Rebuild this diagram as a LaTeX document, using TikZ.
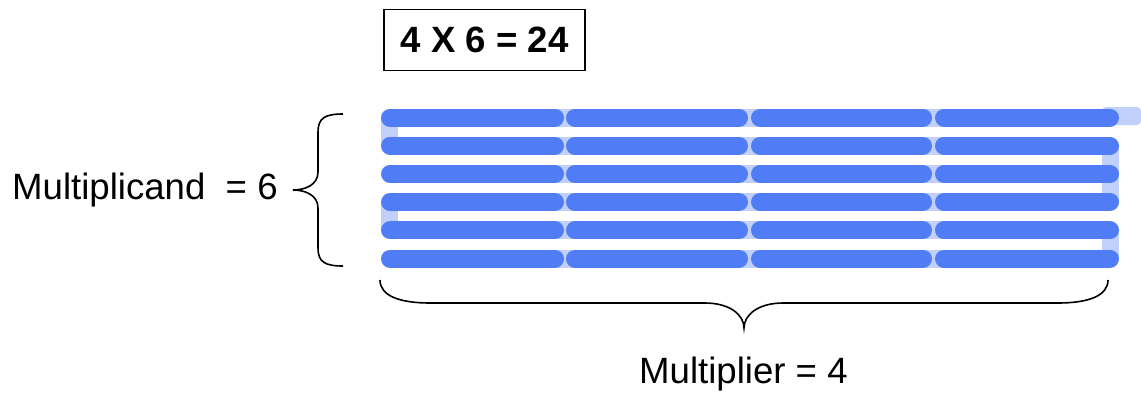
\documentclass[tikz,border=0pt]{standalone}
\usepackage{fontspec}
\setmainfont{Liberation Sans}
\definecolor{barblue}{RGB}{80,125,245}
\definecolor{barlight}{RGB}{193,208,250}
\begin{document}
\begin{tikzpicture}[x=1pt,y=-1pt,
  bar/.style={line width=18pt,line cap=round,draw=barblue},
  under/.style={fill=barlight,draw=none},
  brace/.style={line width=1.6pt,draw=black},
  lbl/.style={font=\fontsize{36.6}{40}\selectfont,inner sep=0pt,anchor=base west},
  eqbox/.style={draw,line width=1.6pt,minimum width=201pt,minimum height=61pt,inner sep=0pt,font=\fontsize{36.6}{40}\selectfont\bfseries}]
\useasboundingbox (0,0) rectangle (1141,392);
% light background connectors
\foreach \r in {0,...,5}{
  \fill[barlight] (390,{117.5+28.2*\r-9}) rectangle (1110,{117.5+28.2*\r+9});
}
\fill[barlight] (381,117.5) rectangle (398,146);
\fill[barlight] (381,202) rectangle (398,230);
\fill[barlight] (1102,146) rectangle (1119,202);
\fill[barlight] (1102,230) rectangle (1119,258.5);
\fill[barlight,rounded corners=4pt] (1102,107) rectangle (1141,125);
% bars
\foreach \r in {0,...,5}{
  \pgfmathsetmacro{\yy}{117.5+28.2*\r}
  \draw[bar] (390,\yy) -- (555,\yy);
  \draw[bar] (575,\yy) -- (739,\yy);
  \draw[bar] (760,\yy) -- (923,\yy);
  \draw[bar] (944,\yy) -- (1110,\yy);
}
% labels
\node[eqbox] (eq) at (484.5,40) {4 X 6 = 24};
\node[lbl] (mcand) at (12,199) {Multiplicand\ \ = 6};
\node[lbl] (mplier) at (639,383) {Multiplier = 4};
% left brace
\coordinate (lt) at (343,114);
\coordinate (ltip) at (293,190);
\coordinate (lb) at (343,266);
\draw[brace] (lt) .. controls (325,114) and (318,118) .. (318,132)
  -- (318,172) .. controls (318,185) and (305,190) .. (ltip)
  .. controls (305,190) and (318,195) .. (318,208)
  -- (318,248) .. controls (318,262) and (325,266) .. (lb);
% bottom brace
\coordinate (bl) at (380,280);
\coordinate (btip) at (744,328);
\coordinate (br) at (1108,280);
\draw[brace] (bl) .. controls (380,296) and (400,303) .. (430,303)
  -- (705,303) .. controls (730,303) and (744,315) .. (btip)
  .. controls (744,315) and (758,303) .. (783,303)
  -- (1058,303) .. controls (1088,303) and (1108,296) .. (br);
\end{tikzpicture}
\end{document}
